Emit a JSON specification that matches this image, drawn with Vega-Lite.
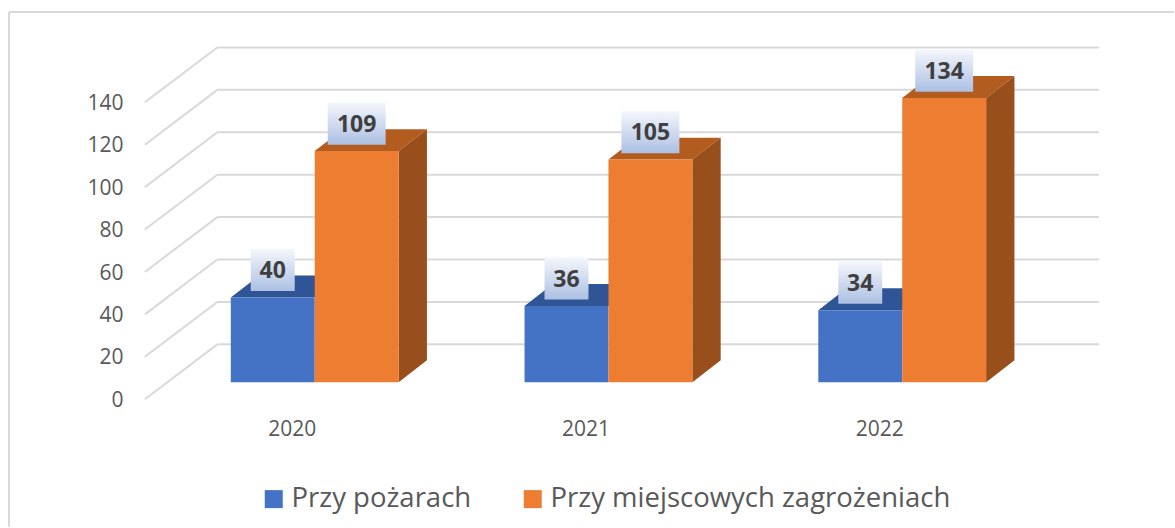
{
"$schema":"https://vega.github.io/schema/vega-lite/v6.json",
"width":1175,"height":528,"padding":0,
"autosize":{"type":"fit","contains":"padding"},
"background":"#ffffff",
"config":{"view":{"stroke":null},"font":"Open Sans",
 "axisX":{"offset":-98,"domain":false,"ticks":false,"grid":false,"labelPadding":0,"labelBaseline":"middle","labelFont":"Open Sans","labelFontSize":21,"labelColor":"#595959","labelFlush":false,"labelOverlap":false,"format":"d"},
 "axisY":{"offset":-123,"domain":false,"ticks":false,"grid":false,"labelPadding":0,"labelOffset":18,"labelFont":"Open Sans","labelFontSize":21,"labelColor":"#595959","labelOverlap":false}},
"datasets":{
 "bars":[
  {"year":2020,"series":"Przy pożarach","value":40},
  {"year":2020,"series":"Przy miejscowych zagrożeniach","value":109},
  {"year":2021,"series":"Przy pożarach","value":36},
  {"year":2021,"series":"Przy miejscowych zagrożeniach","value":105},
  {"year":2022,"series":"Przy pożarach","value":34},
  {"year":2022,"series":"Przy miejscowych zagrożeniach","value":134}
 ],
 "ticks":[{"tick":0},{"tick":20},{"tick":40},{"tick":60},{"tick":80},{"tick":100},{"tick":120},{"tick":140}],
 "one":[{"frame":1}]
},
"layer":[
 {"data":{"name":"one"},"mark":{"type":"rule","stroke":"#D9D9D9","strokeWidth":2},
  "encoding":{
   "x":{"datum":2019.0374,"type":"quantitative","title":null,"scale":{"domain":[2019.0068,2023.0034],"nice":false,"zero":false},"axis":{"values":[2020,2021,2022]}},
   "y":{"datum":174.6,"type":"quantitative","title":null,"scale":{"domain":[-68.24,180.24],"nice":false,"zero":false},"axis":{"values":[0,20,40,60,80,100,120,140]}},
   "y2":{"datum":-68.24}}},
 {"data":{"name":"one"},"mark":{"type":"rule","stroke":"#D9D9D9","strokeWidth":2},
  "encoding":{
   "x":{"datum":2019.0374,"type":"quantitative","title":null},
   "x2":{"datum":2023.0034},
   "y":{"datum":174.6,"type":"quantitative","title":null}}},
 {"data":{"name":"ticks"},
  "transform":[{"calculate":"datum.tick+17.88","as":"wall"},{"calculate":"2019.7466","as":"xa"},{"calculate":"2022.7483","as":"xb"}],
  "mark":{"type":"rule","stroke":"#D9D9D9","strokeWidth":2},
  "encoding":{
   "x":{"field":"xa","type":"quantitative","title":null},
   "x2":{"field":"xb"},
   "y":{"field":"wall","type":"quantitative","title":null}}},
 {"data":{"name":"ticks"},
  "transform":[{"calculate":"datum.tick+17.88","as":"wall"},{"calculate":"datum.tick-8","as":"front"},{"calculate":"2019.5","as":"xa"},{"calculate":"2019.7466","as":"xb"}],
  "mark":{"type":"rule","stroke":"#D9D9D9","strokeWidth":2},
  "encoding":{
   "x":{"field":"xa","type":"quantitative","title":null},
   "x2":{"field":"xb"},
   "y":{"field":"front","type":"quantitative","title":null},
   "y2":{"field":"wall"}}},
 {"data":{"name":"bars"},
  "transform":[
   {"filter":"datum.series==='Przy pożarach'"},
   {"calculate":"[0,1]","as":"t"},{"flatten":["t"]},
   {"calculate":"datum.year-0.2075+datum.t*0.0963","as":"xl"},
   {"calculate":"datum.year+0.0782+datum.t*0.0963","as":"xr"},
   {"calculate":"datum.value+datum.t*10.35","as":"yy"}],
  "mark":{"type":"area","orient":"horizontal","color":"#2F5597"},
  "encoding":{
   "x":{"field":"xl","type":"quantitative","title":null},
   "x2":{"field":"xr"},
   "y":{"field":"yy","type":"quantitative","title":null,"stack":null},
   "detail":{"field":"year"}}},
 {"data":{"name":"bars"},
  "transform":[
   {"filter":"datum.series!=='Przy pożarach'"},
   {"calculate":"[0,1]","as":"t"},{"flatten":["t"]},
   {"calculate":"datum.year+0.0782+datum.t*0.0963","as":"xl"},
   {"calculate":"datum.year+0.3639+datum.t*0.0963","as":"xr"},
   {"calculate":"datum.value+datum.t*10.35","as":"yy"}],
  "mark":{"type":"area","orient":"horizontal","color":"#B35C20"},
  "encoding":{
   "x":{"field":"xl","type":"quantitative","title":null},
   "x2":{"field":"xr"},
   "y":{"field":"yy","type":"quantitative","title":null,"stack":null},
   "detail":{"field":"year"}}},
 {"data":{"name":"bars"},
  "transform":[
   {"filter":"datum.series!=='Przy pożarach'"},
   {"calculate":"[0,1]","as":"t"},{"flatten":["t"]},
   {"calculate":"datum.year+0.3639+datum.t*0.0963","as":"xs"},
   {"calculate":"datum.value+datum.t*10.35","as":"yt"},
   {"calculate":"datum.t*10.35","as":"yb"}],
  "mark":{"type":"area","orient":"vertical","color":"#984F1C"},
  "encoding":{
   "x":{"field":"xs","type":"quantitative","title":null},
   "y":{"field":"yt","type":"quantitative","title":null,"stack":null},
   "y2":{"field":"yb"},
   "detail":{"field":"year"}}},
 {"data":{"name":"bars"},
  "transform":[
   {"calculate":"datum.series==='Przy pożarach'?datum.year-0.2075:datum.year+0.0782","as":"xl"},
   {"calculate":"datum.series==='Przy pożarach'?datum.year+0.0782:datum.year+0.3639","as":"xr"}],
  "mark":{"type":"rect"},
  "encoding":{
   "x":{"field":"xl","type":"quantitative","title":null},
   "x2":{"field":"xr"},
   "y":{"field":"value","type":"quantitative","title":null},
   "y2":{"datum":0},
   "color":{"field":"series","type":"nominal","sort":["Przy pożarach","Przy miejscowych zagrożeniach"],
    "scale":{"domain":["Przy pożarach","Przy miejscowych zagrożeniach"],"range":["#4472C4","#ED7D31"]},
    "legend":{"title":null,"orient":"none","legendX":260,"legendY":485,"direction":"horizontal","columns":2,"symbolType":"square","symbolSize":324,"symbolStrokeWidth":0,"labelFont":"Open Sans","labelFontSize":27.5,"labelColor":"#595959","labelOffset":4,"columnPadding":47,"labelLimit":700}}}},
 {"data":{"name":"bars"},
  "transform":[
   {"calculate":"datum.series==='Przy pożarach'?datum.year-0.0647:datum.year+0.221","as":"xc"},
   {"calculate":"length(toString(datum.value))===3?0.0986:0.0748","as":"hw"},
   {"calculate":"datum.xc-datum.hw","as":"xl"},
   {"calculate":"datum.xc+datum.hw","as":"xr"},
   {"calculate":"datum.value+3","as":"yb"},
   {"calculate":"datum.value+22.8","as":"yt"}],
  "mark":{"type":"rect","fill":{"gradient":"linear","x1":0,"y1":0,"x2":0,"y2":1,"stops":[{"offset":0,"color":"#F4F6FC"},{"offset":1,"color":"#ACC0E3"}]}},
  "encoding":{
   "x":{"field":"xl","type":"quantitative","title":null},
   "x2":{"field":"xr"},
   "y":{"field":"yb","type":"quantitative","title":null},
   "y2":{"field":"yt"}}},
 {"data":{"name":"bars"},
  "transform":[
   {"calculate":"datum.series==='Przy pożarach'?datum.year-0.0647:datum.year+0.221","as":"xc"},
   {"calculate":"datum.value+12.4","as":"ym"}],
  "mark":{"type":"text","font":"Open Sans","fontWeight":"bold","fontSize":23,"color":"#404040","baseline":"middle","align":"center"},
  "encoding":{
   "x":{"field":"xc","type":"quantitative","title":null},
   "y":{"field":"ym","type":"quantitative","title":null},
   "text":{"field":"value","type":"quantitative"}}}
]
}
